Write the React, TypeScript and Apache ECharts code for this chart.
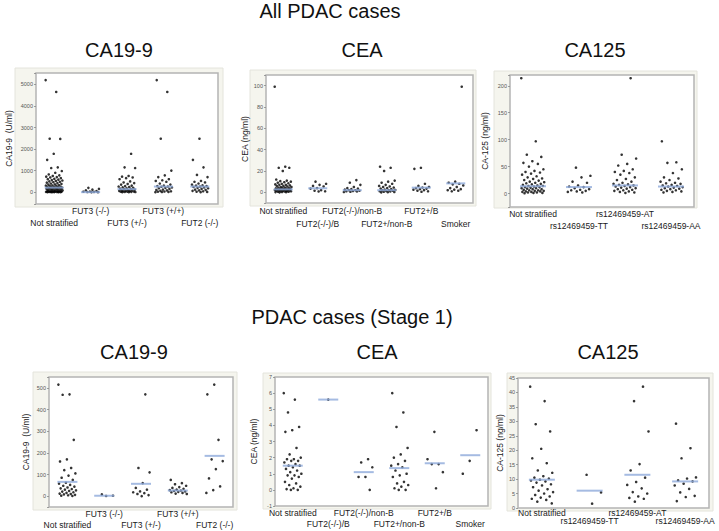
import { useEffect, useRef } from "react";
import * as echarts from "echarts";

// ---------------- Data ----------------
const titleAll = "All PDAC cases";
const titleStage1 = "PDAC cases (Stage 1)";
const markerTitles = ["CA19-9", "CEA", "CA125"];

const ca199Categories = ["Not stratified", "FUT3 (-/-)", "FUT3 (+/-)", "FUT3 (+/+)", "FUT2 (-/-)"];
const ceaCategories = ["Not stratified", "FUT2(-/-)/B", "FUT2(-/-)/non-B", "FUT2+/non-B", "FUT2+/B", "Smoker"];
const ca125Categories = ["Not stratified", "rs12469459-TT", "rs12469459-AT", "rs12469459-AA"];

// All PDAC cases
const allCa199NotStratified = [5200, 4650, 2480, 2470, 1780, 1500, 1150, 1120, 980, 900, 820, 780, 750, 720, 700, 680, 650, 620, 600, 580, 560, 540, 520, 500, 480, 460, 440, 420, 400, 380, 360, 350, 330, 310, 300, 290, 280, 260, 250, 240, 230, 220, 210, 200, 190, 180, 170, 160, 150, 140, 130, 120, 110, 100, 90, 80, 70, 60, 50, 45, 40, 35, 30, 25, 20, 18, 15, 12, 10, 8, 5, 3, 2, 1, 0, 0];
const allCa199Fut3NegNeg = [200, 150, 120, 80, 50, 30, 20, 10, 5, 0, 0];
const allCa199Fut3PosNeg = [1780, 1150, 1120, 750, 720, 680, 650, 600, 500, 450, 420, 380, 350, 300, 280, 260, 240, 220, 200, 180, 160, 150, 140, 120, 100, 90, 80, 70, 60, 50, 40, 30, 25, 20, 15, 10, 5, 2, 0];
const allCa199Fut3PosPos = [5200, 4650, 2480, 1000, 780, 700, 600, 550, 520, 480, 400, 350, 300, 280, 260, 250, 220, 200, 180, 150, 120, 100, 80, 60, 40, 30, 20, 10, 5, 0];
const allCa199Fut2NegNeg = [2480, 1500, 1150, 800, 700, 520, 480, 450, 400, 350, 320, 300, 280, 260, 240, 220, 200, 180, 150, 120, 100, 80, 60, 40, 20, 10, 0];
const allCa199Medians = [210, 0, 140, 260, 260];

const allCeaNotStratified = [99, 24, 23, 23, 20, 12, 11, 10.5, 10, 9.5, 9, 8.5, 8, 7.5, 7, 7, 6.5, 6, 6, 5.5, 5, 5, 4.5, 4.5, 4, 4, 3.8, 3.5, 3.2, 3, 3, 2.8, 2.5, 2.5, 2.2, 2, 2, 1.8, 1.5, 1.5, 1.2, 1, 1, 0.8, 0.5, 0.5, 0.3, 0.2, 0.1, 0];
const allCeaFut2NegB = [10, 8, 7, 6, 5.5, 4, 3.5, 2, 1.5, 1, 0.8];
const allCeaFut2NegNonB = [11.5, 9, 7, 5, 4, 3.5, 3, 2.5, 2, 2, 1.5, 1.2, 1, 0.8, 0.5, 0.3];
const allCeaFut2PosNonB = [24, 23, 20, 11, 10, 9, 8, 7, 6, 5.5, 5, 4.5, 4, 3.5, 3, 2.5, 2.2, 2, 1.8, 1.5, 1.2, 1, 0.8, 0.5, 0.3, 0.1, 0];
const allCeaFut2PosB = [23, 22, 8, 6, 5, 4.5, 4, 3.5, 3, 2.5, 2, 1.5, 1, 0.5];
const allCeaSmoker = [99, 10, 9, 8, 7.5, 6.5, 5, 4, 3, 2.5, 2, 1.5, 1];
const allCeaMedians = [2.8, 3.8, 2, 2, 4.4, 8.4];

const allCa125NotStratified = [214, 97, 72, 68, 60, 57, 55, 50, 45, 42, 40, 39, 37, 35, 32, 30, 28, 27, 25, 24, 22, 21, 20, 19, 18, 17, 16, 15, 14, 14, 13, 12, 12, 11, 10, 10, 9, 8, 8, 7, 6, 6, 5, 5, 4, 4, 3, 3, 2, 2, 1, 1, 0.5];
const allCa125TT = [48, 33, 30, 22, 20, 15, 13, 12, 10, 8, 7, 6, 5, 4, 3, 2];
const allCa125AT = [214, 72, 65, 55, 52, 45, 42, 40, 38, 35, 30, 27, 25, 22, 20, 18, 17, 16, 15, 14, 13, 12, 11, 10, 9, 8, 7, 6, 5, 4, 3, 2, 1];
const allCa125AA = [97, 58, 57, 45, 38, 30, 28, 25, 22, 20, 19, 18, 16, 15, 14, 13, 12, 11, 10, 9, 8, 7, 6, 5, 4, 3, 2];
const allCa125Medians = [13.5, 12, 15, 13];

// Stage 1 cases
const s1Ca199NotStratified = [515, 470, 468, 260, 170, 160, 130, 120, 105, 95, 85, 75, 62, 58, 52, 48, 44, 40, 36, 33, 30, 27, 24, 21, 18, 15, 12, 10, 8, 6, 4, 2, 1];
const s1Ca199Fut3NegNeg = [8, 2, 1];
const s1Ca199Fut3PosNeg = [470, 130, 110, 60, 38, 30, 22, 18, 14, 10, 5, 0];
const s1Ca199Fut3PosPos = [75, 60, 55, 48, 42, 38, 34, 30, 28, 26, 24, 22, 20, 18, 15, 12, 10];
const s1Ca199Fut2NegNeg = [515, 470, 260, 170, 162, 125, 82, 45, 28, 15];
const s1Ca199Medians = [66, 2, 57, 26, 186];

const s1CeaNotStratified = [6.0, 5.6, 4.8, 3.9, 3.7, 3.6, 2.6, 2.2, 2.0, 1.9, 1.9, 1.8, 1.8, 1.7, 1.6, 1.5, 1.5, 1.4, 1.3, 1.2, 1.1, 1.0, 0.9, 0.9, 0.8, 0.7, 0.5, 0.4, 0.3, 0.2, 0.1, 0.05, 0.0, 0.0];
const s1CeaFut2NegB = [5.6];
const s1CeaFut2NegNonB = [1.9, 1.7, 1.4, 0.8, 0.8, 0.0];
const s1CeaFut2PosNonB = [6.0, 4.8, 3.9, 2.6, 2.2, 2.0, 1.8, 1.6, 1.5, 1.4, 1.2, 1.0, 0.9, 0.8, 0.5, 0.4, 0.3, 0.2, 0.1, 0.0, 0.0];
const s1CeaFut2PosB = [3.6, 1.9, 1.6, 1.6, 1.1, 0.1];
const s1CeaSmoker = [3.7, 1.8, 1.0];
const s1CeaMedians = [1.5, 5.6, 1.1, 1.35, 1.65, 2.15];

const s1Ca125NotStratified = [42, 37, 29, 26.5, 20.5, 17.2, 15.5, 13, 12.2, 11, 10.5, 10.2, 9.8, 9.5, 9.2, 8.8, 8.2, 7.8, 7.2, 6.5, 6, 5.5, 5, 4.5, 4, 3.6, 3.2, 2.8, 2.2, 1.6];
const s1Ca125TT = [11.5, 5.4, 1.5];
const s1Ca125AT = [42, 37, 26.5, 15.2, 13, 10.5, 9, 8, 6.8, 5.5, 5, 4, 3.5, 3.2, 2.2];
const s1Ca125AA = [29.2, 20.7, 17.2, 10.6, 10.2, 9.6, 9.2, 8.4, 7.8, 6.6, 5.4, 4.2, 3.8, 2.4];
const s1Ca125Medians = [9.8, 6, 11.5, 9.2];

// ---------------- Layout ----------------
const FONT = "'Liberation Sans', Arial, sans-serif";

type Panel = {
  grid: { left: number; top: number; width: number; height: number };
  bg: [number, number, number, number];
  cats: string[];
  values: number[][];
  medians: number[];
  yName: string;
  nameGap: number;
  yFont: number;
  min: number;
  max: number;
  interval?: number;
  labelStep: number;
  lowerEven: boolean;
  lineHeight: number;
  medW: number;
  title: [number, number];
  titleText: string;
};

const panels: Panel[] = [
  {
    grid: { left: 36, top: 73, width: 182, height: 131 },
    bg: [15, 68, 208, 139],
    cats: ca199Categories,
    values: [allCa199NotStratified, allCa199Fut3NegNeg, allCa199Fut3PosNeg, allCa199Fut3PosPos, allCa199Fut2NegNeg],
    medians: allCa199Medians,
    yName: "CA19-9  (U/ml)", nameGap: 23, yFont: 8.5,
    min: -550, max: 5530, labelStep: 1000,
    lowerEven: true, lineHeight: 12, medW: 19,
    title: [119, 50], titleText: markerTitles[0],
  },
  {
    grid: { left: 266, top: 75, width: 207, height: 128 },
    bg: [250, 70, 226, 136],
    cats: ceaCategories,
    values: [allCeaNotStratified, allCeaFut2NegB, allCeaFut2NegNonB, allCeaFut2PosNonB, allCeaFut2PosB, allCeaSmoker],
    medians: allCeaMedians,
    yName: "CEA (ng/ml)", nameGap: 14, yFont: 8.5,
    min: -10, max: 110, labelStep: 20,
    lowerEven: false, lineHeight: 13, medW: 19,
    title: [362, 50], titleText: markerTitles[1],
  },
  {
    grid: { left: 510, top: 75, width: 184, height: 132 },
    bg: [494, 71, 203, 137],
    cats: ca125Categories,
    values: [allCa125NotStratified, allCa125TT, allCa125AT, allCa125AA],
    medians: allCa125Medians,
    yName: "CA-125 (ng/ml)", nameGap: 21, yFont: 8.5,
    min: -25, max: 220, labelStep: 50,
    lowerEven: false, lineHeight: 12, medW: 26,
    title: [595, 50], titleText: markerTitles[2],
  },
  {
    grid: { left: 49, top: 377, width: 184, height: 130 },
    bg: [33, 372, 204, 138],
    cats: ca199Categories,
    values: [s1Ca199NotStratified, s1Ca199Fut3NegNeg, s1Ca199Fut3PosNeg, s1Ca199Fut3PosPos, s1Ca199Fut2NegNeg],
    medians: s1Ca199Medians,
    yName: "CA19-9  (U/ml)", nameGap: 19, yFont: 8.5,
    min: -50, max: 550, labelStep: 100,
    lowerEven: true, lineHeight: 11, medW: 20,
    title: [134, 352], titleText: markerTitles[0],
  },
  {
    grid: { left: 275, top: 377, width: 213, height: 129 },
    bg: [263, 373, 228, 136],
    cats: ceaCategories,
    values: [s1CeaNotStratified, s1CeaFut2NegB, s1CeaFut2NegNonB, s1CeaFut2PosNonB, s1CeaFut2PosB, s1CeaSmoker],
    medians: s1CeaMedians,
    yName: "CEA (ng/ml)", nameGap: 17, yFont: 8.5,
    min: -1, max: 7, interval: 1, labelStep: 1,
    lowerEven: false, lineHeight: 11, medW: 20,
    title: [377, 352], titleText: markerTitles[1],
  },
  {
    grid: { left: 518, top: 378, width: 191, height: 130 },
    bg: [507, 373, 206, 138],
    cats: ca125Categories,
    values: [s1Ca125NotStratified, s1Ca125TT, s1Ca125AT, s1Ca125AA],
    medians: s1Ca125Medians,
    yName: "CA-125 (ng/ml)", nameGap: 14, yFont: 8.5,
    min: 0, max: 45, interval: 5, labelStep: 5,
    lowerEven: false, lineHeight: 8, medW: 26,
    title: [608, 352], titleText: markerTitles[2],
  },
];

function jitter(i: number, c: number) {
  const t = i * 0.6180339887 + c * 0.37;
  return t - Math.floor(t) - 0.5;
}

function buildOption() {
  const grids: any[] = [];
  const xAxes: any[] = [];
  const yAxes: any[] = [];
  const series: any[] = [];
  const graphics: any[] = [];

  panels.forEach((p, k) => {
    graphics.push({
      type: "rect",
      z: -10,
      shape: { x: p.bg[0], y: p.bg[1], width: p.bg[2], height: p.bg[3] },
      style: { fill: "#f5f5ee", stroke: "#e4e4dc", lineWidth: 1 },
    });
    graphics.push({
      type: "text",
      z: 10,
      x: p.title[0],
      y: p.title[1],
      style: {
        text: p.titleText,
        fontSize: 20,
        fontFamily: FONT,
        fill: "#111",
        textAlign: "center",
        textVerticalAlign: "middle",
      },
    });

    grids.push({
      ...p.grid,
      show: true,
      backgroundColor: "#ffffff",
      borderColor: "#b4b4b4",
      borderWidth: 1.5,
      containLabel: false,
    });
    xAxes.push({
      type: "category",
      gridIndex: k,
      data: p.cats,
      boundaryGap: true,
      axisLine: { show: false },
      axisTick: { show: false },
      splitLine: { show: false },
      axisLabel: {
        interval: 0,
        hideOverlap: false,
        margin: 1,
        fontSize: 8.5,
        fontFamily: FONT,
        color: "#1a1a1a",
        lineHeight: p.lineHeight,
        formatter: (v: string, i: number) => {
          const low = p.lowerEven ? i % 2 === 0 : i % 2 === 1;
          return low ? "\n" + v : v;
        },
      },
    });
    const y: any = {
      type: "value",
      gridIndex: k,
      min: p.min,
      max: p.max,
      name: p.yName,
      nameLocation: "middle",
      nameRotate: 90,
      nameGap: p.nameGap,
      nameTextStyle: { fontSize: p.yFont, fontFamily: FONT, color: "#222" },
      splitLine: { show: false },
      axisLine: { show: false },
      axisTick: { show: true, length: 2, lineStyle: { color: "#888", width: 0.8 } },
      axisLabel: {
        fontSize: 5.5,
        fontFamily: FONT,
        color: "#555",
        margin: 3,
        formatter: (v: number) => (Math.abs(v % p.labelStep) < 1e-9 ? String(v) : ""),
      },
    };
    if (p.interval) y.interval = p.interval;
    yAxes.push(y);

    const pts: any[] = [];
    const spread = p.medW * 0.9;
    p.values.forEach((vals, c) => {
      vals.forEach((v, i) => {
        const dx = vals.length === 1 ? 0 : jitter(i, c) * spread;
        pts.push({ value: [c, v], symbolOffset: [dx, 0] });
      });
    });
    series.push({
      type: "scatter",
      xAxisIndex: k,
      yAxisIndex: k,
      symbol: "circle",
      symbolSize: 2.6,
      itemStyle: { color: "#000" },
      data: pts,
      z: 2,
      silent: true,
    });
    series.push({
      type: "scatter",
      xAxisIndex: k,
      yAxisIndex: k,
      symbol: "rect",
      symbolSize: [p.medW, 2],
      itemStyle: { color: "#8eaadb" },
      data: p.medians.map((m, i) => [i, m]),
      z: 3,
      silent: true,
    });
  });

  graphics.push({
    type: "text",
    z: 10,
    x: 330,
    y: 11,
    style: { text: titleAll, fontSize: 20, fontFamily: FONT, fill: "#111", textAlign: "center", textVerticalAlign: "middle" },
  });
  graphics.push({
    type: "text",
    z: 10,
    x: 352,
    y: 317,
    style: { text: titleStage1, fontSize: 20, fontFamily: FONT, fill: "#111", textAlign: "center", textVerticalAlign: "middle" },
  });

  return {
    animation: false,
    backgroundColor: "#ffffff",
    textStyle: { fontFamily: FONT },
    grid: grids,
    xAxis: xAxes,
    yAxis: yAxes,
    series,
    graphic: graphics,
  };
}

export default function App() {
  const ref = useRef<HTMLDivElement>(null);
  useEffect(() => {
    if (!ref.current) return;
    const chart = echarts.init(ref.current, undefined, { renderer: "svg" });
    chart.setOption(buildOption() as any);
    return () => chart.dispose();
  }, []);
  return (
    <div
      ref={ref}
      style={{ position: "fixed", left: 0, top: 0, width: 719, height: 531, background: "#fff" }}
    />
  );
}
